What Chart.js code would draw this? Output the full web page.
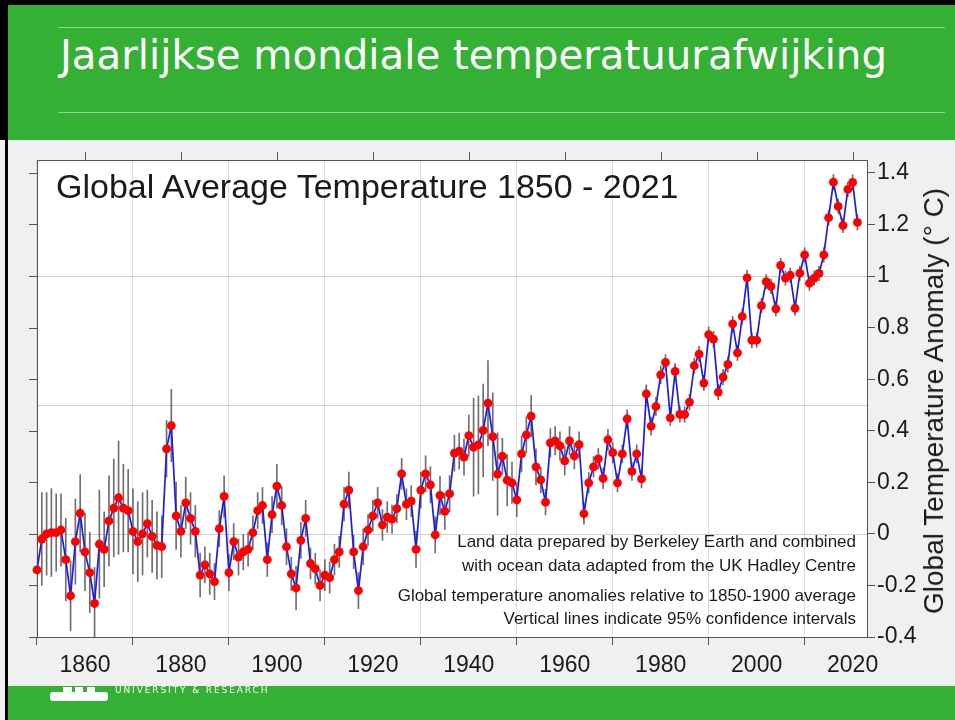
<!DOCTYPE html>
<html>
<head>
<meta charset="utf-8">
<script src="https://cdn.jsdelivr.net/npm/chart.js@4.4.1/dist/chart.umd.min.js"></script>
<style>
html,body{margin:0;padding:0;}
body{width:955px;height:720px;overflow:hidden;background:#f0f0f0;position:relative;font-family:"Liberation Sans",Arial,sans-serif;}
#header{position:absolute;left:0;top:0;width:955px;height:140px;background:#34b034;}
#topBorder{position:absolute;left:0;top:0;width:955px;height:5px;background:#000;}
#leftBorderHead{position:absolute;left:0;top:0;width:7px;height:140px;background:#000;}
#leftLine{position:absolute;left:5px;top:0;width:3px;height:720px;background:#000;}
.hline{position:absolute;left:58px;width:887px;height:1px;background:rgba(255,255,255,0.45);}
#pageTitle{position:absolute;left:60px;top:35px;font-family:"DejaVu Sans Condensed","DejaVu Sans",sans-serif;font-size:41px;line-height:41px;color:#fff;white-space:nowrap;transform-origin:0 0;}
#footer{position:absolute;left:8px;top:686px;width:947px;height:34px;background:#34b034;}
#uni{position:absolute;left:115px;top:685px;font-family:"DejaVu Sans",sans-serif;font-size:9px;line-height:10px;letter-spacing:1.9px;color:#fff;white-space:nowrap;}
.logo{position:absolute;background:#fff;}
#chartWrap{position:absolute;left:0;top:140px;width:955px;height:546px;}
#chartTitle{position:absolute;left:56px;top:169px;font-size:34px;line-height:34px;color:#1a1a1a;white-space:nowrap;}
.note{position:absolute;right:99px;font-size:17px;line-height:17px;color:#1a1a1a;white-space:nowrap;text-align:right;}
#yTitle{position:absolute;left:934px;top:401px;font-size:28px;line-height:28px;color:#1a1a1a;white-space:nowrap;transform:translate(-50%,-50%) rotate(-90deg);}
</style>
</head>
<body>
<div id="header"></div>
<div id="topBorder"></div>
<div id="leftBorderHead"></div>
<div class="hline" style="top:27px"></div>
<div class="hline" style="top:112px"></div>
<div id="pageTitle">Jaarlijkse mondiale temperatuurafwijking</div>

<div id="chartWrap"><canvas id="c" width="955" height="546"></canvas></div>

<div id="chartTitle">Global Average Temperature 1850 - 2021</div>
<div class="note" style="top:533px">Land data prepared by Berkeley Earth and combined</div>
<div class="note" style="top:557px">with ocean data adapted from the UK Hadley Centre</div>
<div class="note" style="top:587px">Global temperature anomalies relative to 1850-1900 average</div>
<div class="note" style="top:610px">Vertical lines indicate 95% confidence intervals</div>
<div id="yTitle">Global Temperature Anomaly (° C)</div>

<div id="footer"></div>
<div class="logo" style="left:63px;top:687px;width:9px;height:6px"></div>
<div class="logo" style="left:75px;top:687px;width:8px;height:6px"></div>
<div class="logo" style="left:87px;top:687px;width:8px;height:6px"></div>
<div class="logo" style="left:50px;top:692px;width:58px;height:9px;border-radius:3px"></div>
<div id="uni">UNIVERSITY &amp; RESEARCH</div>
<div id="leftLine"></div>

<script>
// ---- Data ----
const years = [
 1850,1851,1852,1853,1854,1855,1856,1857,1858,1859,
 1860,1861,1862,1863,1864,1865,1866,1867,1868,1869,
 1870,1871,1872,1873,1874,1875,1876,1877,1878,1879,
 1880,1881,1882,1883,1884,1885,1886,1887,1888,1889,
 1890,1891,1892,1893,1894,1895,1896,1897,1898,1899,
 1900,1901,1902,1903,1904,1905,1906,1907,1908,1909,
 1910,1911,1912,1913,1914,1915,1916,1917,1918,1919,
 1920,1921,1922,1923,1924,1925,1926,1927,1928,1929,
 1930,1931,1932,1933,1934,1935,1936,1937,1938,1939,
 1940,1941,1942,1943,1944,1945,1946,1947,1948,1949,
 1950,1951,1952,1953,1954,1955,1956,1957,1958,1959,
 1960,1961,1962,1963,1964,1965,1966,1967,1968,1969,
 1970,1971,1972,1973,1974,1975,1976,1977,1978,1979,
 1980,1981,1982,1983,1984,1985,1986,1987,1988,1989,
 1990,1991,1992,1993,1994,1995,1996,1997,1998,1999,
 2000,2001,2002,2003,2004,2005,2006,2007,2008,2009,
 2010,2011,2012,2013,2014,2015,2016,2017,2018,2019,
 2020,2021
];
const anomaly = [
 -0.14,-0.02,0.00,0.005,0.005,0.015,-0.10,-0.24,-0.03,0.08,
 -0.07,-0.15,-0.27,-0.04,-0.06,0.05,0.10,0.14,0.10,0.09,
 0.01,-0.03,0.00,0.04,-0.01,-0.045,-0.05,0.33,0.42,0.07,
 0.01,0.12,0.06,0.01,-0.16,-0.12,-0.155,-0.185,0.02,0.145,
 -0.15,-0.03,-0.09,-0.07,-0.06,0.005,0.09,0.11,-0.10,0.075,
 0.185,0.11,-0.05,-0.155,-0.21,-0.025,0.06,-0.115,-0.135,-0.20,
 -0.16,-0.17,-0.10,-0.07,0.115,0.17,-0.07,-0.22,-0.05,0.015,
 0.07,0.12,0.035,0.065,0.057,0.098,0.233,0.115,0.127,-0.06,
 0.17,0.233,0.19,-0.004,0.149,0.087,0.156,0.313,0.321,0.298,
 0.381,0.336,0.345,0.401,0.507,0.377,0.232,0.301,0.208,0.198,
 0.132,0.31,0.384,0.457,0.26,0.209,0.123,0.353,0.361,0.341,
 0.283,0.361,0.302,0.346,0.078,0.198,0.26,0.291,0.215,0.365,
 0.315,0.198,0.31,0.446,0.242,0.31,0.213,0.543,0.418,0.494,
 0.617,0.665,0.45,0.63,0.463,0.463,0.511,0.652,0.697,0.585,
 0.773,0.755,0.55,0.608,0.657,0.814,0.702,0.843,0.993,0.751,
 0.751,0.885,0.978,0.96,0.873,1.041,0.992,1.003,0.875,1.011,
 1.082,0.972,0.992,1.01,1.082,1.226,1.364,1.27,1.196,1.336,
 1.363,1.208
];
// half-width of the 95% confidence interval
const ci95 = [
 0.17,0.18,0.16,0.17,0.15,0.14,0.16,0.135,0.165,0.15,
 0.15,0.155,0.14,0.21,0.145,0.175,0.19,0.22,0.17,0.16,
 0.165,0.155,0.16,0.13,0.14,0.13,0.12,0.11,0.14,0.13,
 0.10,0.10,0.10,0.10,0.085,0.07,0.08,0.07,0.07,0.08,
 0.07,0.07,0.07,0.07,0.065,0.065,0.07,0.07,0.065,0.07,
 0.085,0.075,0.07,0.065,0.085,0.07,0.07,0.06,0.06,0.06,
 0.06,0.06,0.06,0.06,0.065,0.07,0.065,0.07,0.07,0.06,
 0.06,0.06,0.06,0.06,0.055,0.055,0.06,0.06,0.06,0.07,
 0.07,0.07,0.07,0.07,0.075,0.07,0.07,0.07,0.07,0.07,
 0.08,0.19,0.19,0.18,0.165,0.17,0.16,0.07,0.10,0.08,
 0.065,0.07,0.07,0.08,0.07,0.05,0.05,0.055,0.055,0.055,
 0.055,0.055,0.05,0.05,0.04,0.04,0.04,0.04,0.04,0.04,
 0.04,0.035,0.035,0.035,0.035,0.035,0.035,0.035,0.035,0.035,
 0.035,0.03,0.03,0.03,0.03,0.03,0.03,0.03,0.03,0.03,
 0.03,0.03,0.03,0.03,0.03,0.03,0.03,0.03,0.03,0.03,
 0.028,0.028,0.028,0.028,0.028,0.028,0.028,0.028,0.028,0.028,
 0.028,0.028,0.028,0.028,0.028,0.028,0.03,0.028,0.028,0.028,
 0.03,0.03
];
const xTickValues = [1860,1880,1900,1920,1940,1960,1980,2000,2020];
const yTickValues = [-0.4,-0.2,0,0.2,0.4,0.6,0.8,1,1.2,1.4];
const yGridValues = [0,0.5,1];
const xRange = [1850,2023];
const yRange = [-0.4,1.45];

// fit header title width
(function(){
  const t = document.getElementById('pageTitle');
  const w = t.getBoundingClientRect().width;
  t.style.transform = 'scaleX(' + (827 / w) + ')';
})();

const pointData = years.map((yr,i)=>({x:yr, y:anomaly[i]}));
const ciData = years.map((yr,i)=>({x:yr, y:[anomaly[i]-ci95[i], anomaly[i]+ci95[i]]}));

const frameColor = '#555';
const boxPlugin = {
  id:'box',
  beforeDraw(chart){
    const {ctx, chartArea:a} = chart;
    ctx.save(); ctx.fillStyle='#fff'; ctx.fillRect(a.left,a.top,a.right-a.left,a.bottom-a.top); ctx.restore();
  },
  beforeDatasetsDraw(chart){
    const {ctx, chartArea:a, scales:{x,y}} = chart;
    ctx.save();
    ctx.strokeStyle='#d0d0d0'; ctx.lineWidth=1;
    yGridValues.forEach(v=>{
      const py=Math.round(y.getPixelForValue(v))+0.5;
      ctx.beginPath(); ctx.moveTo(a.left,py); ctx.lineTo(a.right,py); ctx.stroke();
    });
    ctx.strokeStyle=frameColor; ctx.lineWidth=1;
    ctx.strokeRect(Math.round(a.left)+0.5, Math.round(a.top)+0.5, Math.round(a.right-a.left), Math.round(a.bottom-a.top));
    xTickValues.forEach(v=>{
      const px=Math.round(x.getPixelForValue(v))+0.5;
      ctx.beginPath(); ctx.moveTo(px,a.top); ctx.lineTo(px,a.top-8); ctx.stroke();
    });
    yTickValues.forEach(v=>{
      const py=Math.round(y.getPixelForValue(v))+0.5;
      ctx.beginPath(); ctx.moveTo(a.left,py); ctx.lineTo(a.left-8,py); ctx.stroke();
    });
    ctx.restore();
  }
};

Chart.defaults.font.family = '"Liberation Sans", Arial, sans-serif';
Chart.defaults.color = '#1a1a1a';

new Chart(document.getElementById('c'), {
  type:'line',
  data:{
    datasets:[
      {
        type:'line', label:'Anomaly', data:pointData, order:0,
        borderColor:'#1c1ce6', borderWidth:1.7, tension:0,
        pointRadius:4.4, pointBackgroundColor:'#ff0000', pointBorderWidth:0, pointBorderColor:'#ff0000',
        clip:false
      },
      {
        type:'bar', label:'95% CI', data:ciData, order:1,
        backgroundColor:'rgba(85,85,85,0.85)', borderWidth:0,
        barThickness:1, grouped:false
      }
    ]
  },
  options:{
    responsive:false, animation:false, events:[],
    layout:{padding:{left:37, top:20, right:0, bottom:0}},
    plugins:{legend:{display:false}, tooltip:{enabled:false}, title:{display:false}},
    scales:{
      x:{
        type:'linear', min:xRange[0], max:xRange[1], offset:false,
        afterBuildTicks(s){ s.ticks = xTickValues.map(v=>({value:v})); },
        afterFit(s){ s.height = 49; },
        ticks:{font:{size:23}, padding:7, maxRotation:0, autoSkip:false, callback:(v)=>String(v)},
        grid:{color:'#dcdcdc', tickColor:frameColor, tickLength:8, drawTicks:true},
        border:{display:true, color:frameColor, width:1}
      },
      y:{
        type:'linear', position:'right', min:yRange[0], max:yRange[1],
        afterBuildTicks(s){ s.ticks = yTickValues.map(v=>({value:v})); },
        afterFit(s){ s.width = 88; },
        ticks:{font:{size:23}, padding:2, callback:(v)=>String(Number(v.toFixed(1)))},
        grid:{color:'rgba(0,0,0,0)', tickColor:frameColor, tickLength:8, drawTicks:true},
        border:{display:true, color:frameColor, width:1}
      }
    }
  },
  plugins:[boxPlugin]
});
</script>
</body>
</html>
